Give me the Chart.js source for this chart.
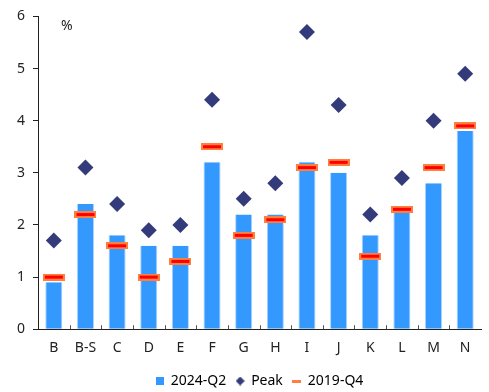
<!DOCTYPE html>
<html>
<head>
<meta charset="utf-8">
<script src="https://cdn.jsdelivr.net/npm/chart.js@4/dist/chart.umd.min.js"></script>
<style>
  html, body { margin: 0; padding: 0; background: #fff; }
  #wrap { width: 489px; height: 392px; }
</style>
</head>
<body>
<div id="wrap"><canvas id="c" width="489" height="392"></canvas></div>
<script>
const categories = ['B', 'B-S', 'C', 'D', 'E', 'F', 'G', 'H', 'I', 'J', 'K', 'L', 'M', 'N'];
const q2024 = [0.9, 2.4, 1.8, 1.6, 1.6, 3.2, 2.2, 2.2, 3.2, 3.0, 1.8, 2.3, 2.8, 3.8];
const peak = [1.7, 3.1, 2.4, 1.9, 2.0, 4.4, 2.5, 2.8, 5.7, 4.3, 2.2, 2.9, 4.0, 4.9];
const q2019 = [1.0, 2.2, 1.6, 1.0, 1.3, 3.5, 1.8, 2.1, 3.1, 3.2, 1.4, 2.3, 3.1, 3.9];
const yTicks = [0, 1, 2, 3, 4, 5, 6];

const BLUE = '#3399ff';
const NAVY = '#333b7a';
const ORANGE = '#ff7f3f';
const RED = '#ff0000';
const FONT = '"Noto Sans", "Open Sans", sans-serif';

function dashImg(w, h, inner) {
  const cv = document.createElement('canvas');
  cv.width = w; cv.height = h;
  const g = cv.getContext('2d');
  g.fillStyle = ORANGE;
  g.fillRect(0, 0, w, h);
  if (inner) {
    g.fillStyle = RED;
    g.fillRect(2, 2, w - 4, h - 4);
  }
  return cv;
}
function squareImg(s, color) {
  const cv = document.createElement('canvas');
  cv.width = s; cv.height = s;
  const g = cv.getContext('2d');
  g.fillStyle = color;
  g.fillRect(0, 0, s, s);
  return cv;
}
function diamondImg(s, color) {
  const cv = document.createElement('canvas');
  cv.width = s; cv.height = s;
  const g = cv.getContext('2d');
  g.fillStyle = color;
  g.beginPath();
  g.moveTo(s / 2, 0); g.lineTo(s, s / 2); g.lineTo(s / 2, s); g.lineTo(0, s / 2);
  g.closePath();
  g.fill();
  return cv;
}
const dashMark = dashImg(22, 7, true);
const dashLegend = dashImg(9, 3, false);
const squareLegend = squareImg(8, BLUE);
const diamondLegend = diamondImg(9, NAVY);

const pctPlugin = {
  id: 'pct',
  afterDraw(chart) {
    const ctx = chart.ctx;
    const a = chart.chartArea;
    ctx.save();
    ctx.fillStyle = '#222';
    ctx.font = '14px ' + FONT;
    ctx.textBaseline = 'middle';
    ctx.fillText('%', a.left + 23, a.top + 10);
    const xs = chart.scales.x;
    ctx.strokeStyle = '#555';
    ctx.lineWidth = 1;
    for (let i = 1; i < categories.length; i++) {
      const px = Math.round((xs.getPixelForValue(i - 1) + xs.getPixelForValue(i)) / 2) + 0.5;
      ctx.beginPath();
      ctx.moveTo(px, a.bottom);
      ctx.lineTo(px, a.bottom - 4);
      ctx.stroke();
    }
    ctx.restore();
  }
};

new Chart(document.getElementById('c'), {
  data: {
    labels: categories,
    datasets: [
      {
        type: 'scatter',
        label: '2019-Q4',
        data: q2019.map((v, i) => ({ x: categories[i], y: v })),
        pointStyle: dashMark,
        order: 1
      },
      {
        type: 'scatter',
        label: 'Peak',
        data: peak.map((v, i) => ({ x: categories[i], y: v })),
        pointStyle: 'rectRot',
        pointRadius: 8,
        pointHoverRadius: 8,
        backgroundColor: NAVY,
        borderColor: NAVY,
        borderWidth: 0,
        order: 0
      },
      {
        type: 'bar',
        label: '2024-Q2',
        data: q2024,
        backgroundColor: BLUE,
        borderColor: '#a9d3ff',
        borderWidth: { left: 1, right: 1, top: 0, bottom: 0 },
        barPercentage: 0.54,
        categoryPercentage: 1.0,
        order: 2
      }
    ]
  },
  options: {
    responsive: false,
    animation: false,
    layout: { padding: { top: 15, right: 0, left: 0, bottom: -6 } },
    plugins: {
      tooltip: { enabled: false },
      legend: {
        position: 'bottom',
        fullSize: false,
        labels: {
          color: '#222',
          font: { family: FONT, size: 14 },
          usePointStyle: true,
          boxWidth: 8,
          boxHeight: 8,
          padding: 10,
          generateLabels() {
            return [
              { text: '2024-Q2', fillStyle: BLUE, strokeStyle: BLUE, lineWidth: 0, pointStyle: squareLegend, datasetIndex: 2 },
              { text: 'Peak', fillStyle: NAVY, strokeStyle: NAVY, lineWidth: 0, pointStyle: diamondLegend, datasetIndex: 1 },
              { text: '2019-Q4', fillStyle: ORANGE, strokeStyle: ORANGE, lineWidth: 0, pointStyle: dashLegend, datasetIndex: 0 }
            ];
          }
        }
      }
    },
    scales: {
      x: {
        type: 'category',
        labels: categories,
        offset: true,
        afterFit(scale) { scale.height -= 2; },
        grid: { display: false, drawTicks: false },
        border: { display: true, color: '#222', width: 1 },
        ticks: { color: '#222', font: { family: FONT, size: 14 }, padding: 10, maxRotation: 0 }
      },
      y: {
        min: 0,
        max: 6,
        afterBuildTicks(scale) { scale.ticks = yTicks.map(v => ({ value: v })); },
        afterFit(scale) { scale.width = 38; },
        grid: { display: true, drawOnChartArea: false, drawTicks: true, tickLength: 5, tickColor: '#222' },
        border: { display: true, color: '#222', width: 1 },
        ticks: { color: '#222', font: { family: FONT, size: 14 }, padding: 8 }
      }
    }
  },
  plugins: [pctPlugin]
});
</script>
</body>
</html>
